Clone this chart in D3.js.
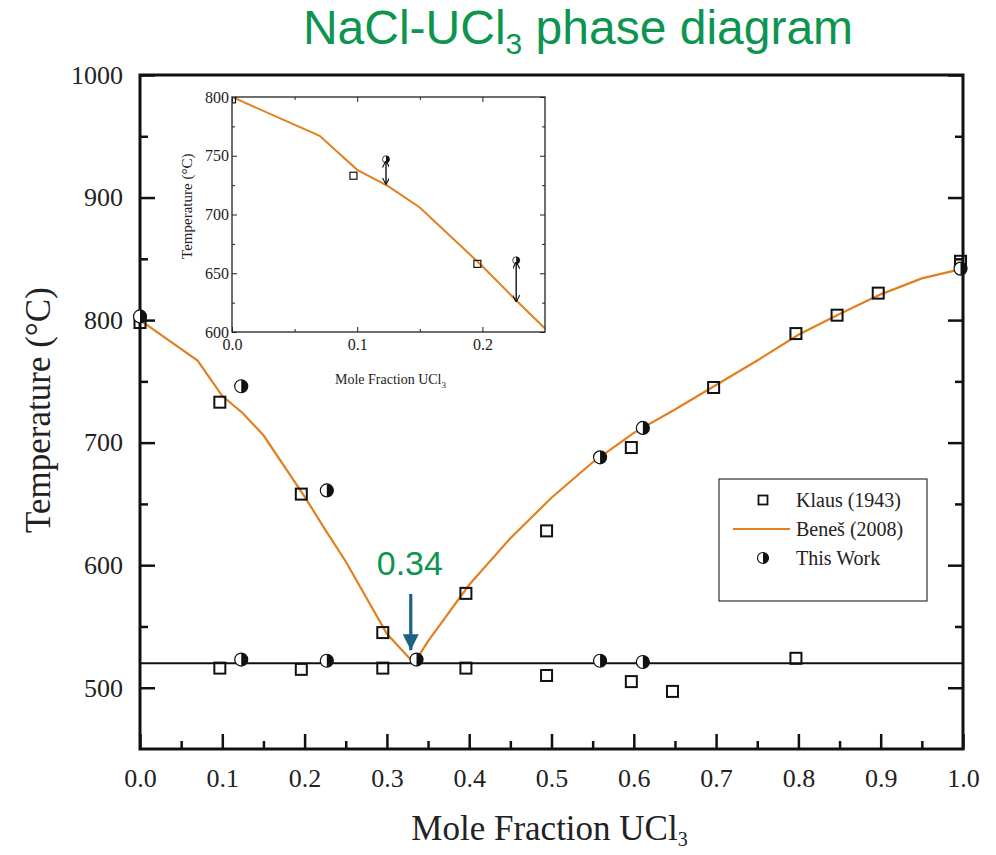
<!DOCTYPE html>
<html lang="en">
<head>
    <meta charset="UTF-8">
    <title>NaCl-UCl3 phase diagram</title>
    <script src="https://d3js.org/d3.v7.min.js"></script>
    <style>
        body { margin: 0; background: #fff; }
        .serif, .serif text { font-family: "Liberation Serif", "Times New Roman", serif; }
    </style>
</head>
<body>
    <div id="chart"></div>
    <script>
        // Beneš (2008) liquidus curve
        const benesX = [0, 0.07, 0.1, 0.125, 0.15, 0.2, 0.225, 0.25, 0.3, 0.333, 0.35, 0.4, 0.45, 0.5, 0.55, 0.6, 0.65, 0.7, 0.75, 0.8, 0.85, 0.9, 0.95, 1.0];
        const benesT = [800, 767, 738, 724, 706, 656, 629, 603, 544, 520, 538, 584, 622, 655, 684, 708, 727, 747, 767, 788, 805, 821, 834, 842];

        // Klaus (1943) squares
        const klausX = [0, 0.097, 0.196, 0.295, 0.396, 0.494, 0.597, 0.697, 0.797, 0.847, 0.897, 0.997,
                        0.097, 0.196, 0.295, 0.396, 0.494, 0.597, 0.647, 0.797];
        const klausT = [798, 733, 658, 545, 577, 628, 696, 745, 789, 804, 822, 848,
                        516, 515, 516, 516, 510, 505, 497, 524];

        // This Work (half filled circles)
        const workX = [0, 0.123, 0.227, 0.336, 0.559, 0.611, 0.997, 0.123, 0.227, 0.559, 0.611];
        const workT = [803, 746, 661, 523, 688, 712, 842, 523, 522, 522, 521];

        // inset error arrows
        const arrowX = [0.123, 0.227];
        const arrowTop = [747, 661];
        const arrowBottom = [726, 626];

        const eutecticT = 520;
        const eutecticX = 0.34;

        const xTicks = [0, 0.1, 0.2, 0.3, 0.4, 0.5, 0.6, 0.7, 0.8, 0.9, 1.0];
        const yTicks = [500, 600, 700, 800, 900, 1000];
        const insetXTicks = [0, 0.1, 0.2];
        const insetYTicks = [600, 650, 700, 750, 800];

        const orange = "#e2801f";
        const serifFont = '"Liberation Serif", "Times New Roman", serif';
        const W = 996, H = 855;
        const margin = {top: 75, right: 33, bottom: 106, left: 140};
        const width = W - margin.left - margin.right,
            height = H - margin.top - margin.bottom;

        const svg = d3.select('#chart')
            .append('svg')
                .attr('width', W)
                .attr('height', H);

        // title
        const title = svg.append('text')
            .attr('x', 578)
            .attr('y', 44)
            .attr('text-anchor', 'middle')
            .attr('fill', '#0d9550')
            .style('font-family', '"Liberation Sans", Arial, sans-serif')
            .style('font-size', '48px');
        title.append('tspan').text('NaCl-UCl');
        title.append('tspan').attr('dy', 10).style('font-size', '30px').text('3');
        title.append('tspan').attr('dy', -10).text(' phase diagram');

        const g = svg.append('g')
            .attr('transform', `translate(${margin.left}, ${margin.top})`);

        const x = d3.scaleLinear().domain([0, 1]).range([0, width]);
        const y = d3.scaleLinear().domain([450, 1000]).range([height, 0]);

        // minor ticks
        g.append('g')
            .attr('transform', `translate(0, ${height})`)
            .call(d3.axisBottom(x).tickValues(d3.range(0.05, 1, 0.1)).tickSizeInner(-8).tickSizeOuter(0).tickFormat(''));
        g.append('g')
            .call(d3.axisLeft(y).tickValues(d3.range(550, 1000, 100)).tickSizeInner(-8).tickSizeOuter(0).tickFormat(''));
        g.append('g')
            .attr('transform', `translate(${width}, 0)`)
            .call(d3.axisRight(y).tickValues(d3.range(550, 1000, 100)).tickSizeInner(-8).tickSizeOuter(0).tickFormat(''));

        // major ticks
        g.append('g')
            .attr('transform', `translate(0, ${height})`)
            .call(d3.axisBottom(x).tickValues(xTicks).tickSizeInner(-15).tickSizeOuter(0).tickPadding(20).tickFormat(d3.format('.1f')));
        g.append('g')
            .call(d3.axisLeft(y).tickValues(yTicks).tickSizeInner(-15).tickSizeOuter(0).tickPadding(17).tickFormat(d3.format('d')));
        g.append('g')
            .attr('transform', `translate(${width}, 0)`)
            .call(d3.axisRight(y).tickValues(yTicks).tickSizeInner(-15).tickSizeOuter(0).tickFormat(''));

        g.selectAll('.domain').remove();
        g.selectAll('.tick line').attr('stroke', '#111').attr('stroke-width', 2.5);
        g.selectAll('g').attr('font-family', serifFont);
        g.selectAll('.tick text')
            .attr('fill', '#222')
            .attr('font-family', serifFont)
            .attr('font-size', 26)
            .style('font-family', serifFont)
            .style('font-size', '26px');

        // frame
        g.append('rect')
            .attr('width', width)
            .attr('height', height)
            .attr('fill', 'none')
            .attr('stroke', '#111')
            .attr('stroke-width', 3);

        // axis labels
        const xl = svg.append('text')
            .attr('class', 'serif')
            .attr('x', margin.left + width / 2 - 2)
            .attr('y', 840)
            .attr('text-anchor', 'middle')
            .attr('fill', '#222')
            .style('font-size', '35px');
        xl.append('tspan').text('Mole Fraction UCl');
        xl.append('tspan').attr('dy', 6).style('font-size', '20px').text('3');

        svg.append('text')
            .attr('class', 'serif')
            .attr('transform', `translate(50, 410) rotate(-90)`)
            .attr('text-anchor', 'middle')
            .attr('fill', '#222')
            .style('font-size', '35px')
            .text('Temperature (°C)');

        // eutectic line
        g.append('line')
            .attr('x1', 0).attr('x2', width)
            .attr('y1', y(eutecticT)).attr('y2', y(eutecticT))
            .attr('stroke', '#111')
            .attr('stroke-width', 2);

        const benes = benesX.map((d, i) => [d, benesT[i]]);
        const klaus = klausX.map((d, i) => [d, klausT[i]]);
        const work = workX.map((d, i) => [d, workT[i]]);

        const line = d3.line().x(d => x(d[0])).y(d => y(d[1]));
        g.append('path')
            .datum(benes)
            .attr('d', line)
            .attr('fill', 'none')
            .attr('stroke', orange)
            .attr('stroke-width', 2.2);

        function squares(sel, data, xs, ys, s, sw) {
            sel.selectAll(null)
                .data(data)
                .join('rect')
                    .attr('x', d => xs(d[0]) - s / 2)
                    .attr('y', d => ys(d[1]) - s / 2)
                    .attr('width', s)
                    .attr('height', s)
                    .attr('fill', 'none')
                    .attr('stroke', '#111')
                    .attr('stroke-width', sw);
        }

        function halfCircles(sel, data, xs, ys, r, sw) {
            const m = sel.selectAll(null)
                .data(data)
                .join('g')
                    .attr('transform', d => `translate(${xs(d[0])}, ${ys(d[1])})`);
            m.append('circle').attr('r', r).attr('fill', '#fff').attr('stroke', '#111').attr('stroke-width', sw);
            m.append('path').attr('d', `M0,${-r}A${r},${r} 0 0 1 0,${r}Z`).attr('fill', '#111');
        }

        squares(g, klaus, x, y, 11, 2);
        halfCircles(g, work, x, y, 6.5, 1.2);

        // eutectic annotation
        svg.append('text')
            .attr('x', margin.left + x(eutecticX) - 10)
            .attr('y', 575)
            .attr('text-anchor', 'middle')
            .attr('fill', '#0d9550')
            .style('font-family', '"Liberation Sans", Arial, sans-serif')
            .style('font-size', '34px')
            .text(eutecticX.toFixed(2));

        const defs = svg.append('defs');
        defs.append('marker')
            .attr('id', 'tealhead')
            .attr('viewBox', '0 0 10 10')
            .attr('refX', 10).attr('refY', 5)
            .attr('markerWidth', 5).attr('markerHeight', 5)
            .attr('markerUnits', 'strokeWidth')
            .attr('orient', 'auto')
            .append('path')
                .attr('d', 'M0,0L10,5L0,10Z')
                .attr('fill', '#1b6382');

        const ax = margin.left + x(0.329);
        svg.append('line')
            .attr('x1', ax).attr('x2', ax)
            .attr('y1', 594).attr('y2', margin.top + y(eutecticT) - 13)
            .attr('stroke', '#1b6382')
            .attr('stroke-width', 3.2)
            .attr('marker-end', 'url(#tealhead)');

        // legend
        const lg = svg.append('g').attr('class', 'serif');
        lg.append('rect')
            .attr('x', 719).attr('y', 479)
            .attr('width', 208).attr('height', 122)
            .attr('fill', '#fff')
            .attr('stroke', '#333')
            .attr('stroke-width', 1.2);
        const legendNames = ['Klaus (1943)', 'Beneš (2008)', 'This Work'];
        legendNames.forEach((n, i) => {
            lg.append('text')
                .attr('x', 796).attr('y', 500 + i * 29 + 7)
                .attr('fill', '#222')
                .style('font-size', '20px')
                .text(n);
        });
        squares(lg, [[763, 500]], d => d, d => d, 9, 1.8);
        lg.append('line')
            .attr('x1', 733).attr('x2', 790)
            .attr('y1', 529).attr('y2', 529)
            .attr('stroke', orange).attr('stroke-width', 2.2);
        halfCircles(lg, [[763, 558]], d => d, d => d, 5.5, 1.2);

        // inset
        const inset = {left: 232, top: 97, width: 313, height: 235};
        const ig = svg.append('g')
            .attr('transform', `translate(${inset.left}, ${inset.top})`);
        const ix = d3.scaleLinear().domain([0, 0.25]).range([0, inset.width]);
        const iy = d3.scaleLinear().domain([600, 800]).range([inset.height, 0]);

        ig.append('rect')
            .attr('width', inset.width).attr('height', inset.height)
            .attr('fill', '#fff');

        const minorX = d3.range(0.05, 0.25, 0.1);
        ig.append('g').attr('transform', `translate(0, ${inset.height})`)
            .call(d3.axisBottom(ix).tickValues(minorX).tickSizeInner(-3).tickSizeOuter(0).tickFormat(''));
        ig.append('g')
            .call(d3.axisTop(ix).tickValues(minorX).tickSizeInner(-3).tickSizeOuter(0).tickFormat(''));
        ig.append('g')
            .call(d3.axisLeft(iy).tickValues(d3.range(625, 800, 50)).tickSizeInner(-3).tickSizeOuter(0).tickFormat(''));
        ig.append('g').attr('transform', `translate(${inset.width}, 0)`)
            .call(d3.axisRight(iy).tickValues(d3.range(625, 800, 50)).tickSizeInner(-3).tickSizeOuter(0).tickFormat(''));

        ig.append('g').attr('transform', `translate(0, ${inset.height})`)
            .call(d3.axisBottom(ix).tickValues(insetXTicks).tickSizeInner(-5).tickSizeOuter(0).tickPadding(7).tickFormat(d3.format('.1f')));
        ig.append('g')
            .call(d3.axisTop(ix).tickValues(insetXTicks).tickSizeInner(-5).tickSizeOuter(0).tickFormat(''));
        ig.append('g')
            .call(d3.axisLeft(iy).tickValues(insetYTicks).tickSizeInner(-5).tickSizeOuter(0).tickPadding(3));
        ig.append('g').attr('transform', `translate(${inset.width}, 0)`)
            .call(d3.axisRight(iy).tickValues(insetYTicks).tickSizeInner(-5).tickSizeOuter(0).tickFormat(''));

        ig.selectAll('.domain').remove();
        ig.selectAll('.tick line').attr('stroke', '#222').attr('stroke-width', 1);
        ig.selectAll('g').attr('font-family', serifFont);
        ig.selectAll('.tick text')
            .attr('fill', '#222')
            .attr('font-family', serifFont)
            .attr('font-size', 16)
            .style('font-family', serifFont)
            .style('font-size', '16px');

        defs.append('clipPath').attr('id', 'insetclip')
            .append('rect').attr('width', inset.width).attr('height', inset.height);

        const ip = ig.append('g').attr('clip-path', 'url(#insetclip)');
        const iline = d3.line().x(d => ix(d[0])).y(d => iy(d[1]));
        ip.append('path')
            .datum(benes.filter(d => d[0] <= 0.25))
            .attr('d', iline)
            .attr('fill', 'none')
            .attr('stroke', orange)
            .attr('stroke-width', 2);
        squares(ip, klaus.filter(d => d[0] <= 0.25 && d[1] >= 600), ix, iy, 7, 1.2);

        defs.append('marker')
            .attr('id', 'vhead')
            .attr('viewBox', '0 0 10 10')
            .attr('refX', 9).attr('refY', 5)
            .attr('markerWidth', 7).attr('markerHeight', 7)
            .attr('markerUnits', 'userSpaceOnUse')
            .attr('orient', 'auto-start-reverse')
            .append('path')
                .attr('d', 'M0,0L10,5L0,10')
                .attr('fill', 'none')
                .attr('stroke', '#111')
                .attr('stroke-width', 1.6);

        halfCircles(ip, arrowX.map((d, i) => [d, arrowTop[i]]), ix, iy, 3.5, 0.8);
        ip.selectAll(null)
            .data(arrowX)
            .join('line')
                .attr('x1', d => ix(d)).attr('x2', d => ix(d))
                .attr('y1', (d, i) => iy(arrowTop[i]) + 2)
                .attr('y2', (d, i) => iy(arrowBottom[i]))
                .attr('stroke', '#111')
                .attr('stroke-width', 1.4)
                .attr('marker-start', 'url(#vhead)')
                .attr('marker-end', 'url(#vhead)');

        ig.append('rect')
            .attr('width', inset.width).attr('height', inset.height)
            .attr('fill', 'none')
            .attr('stroke', '#222')
            .attr('stroke-width', 1.3);

        const ixl = ig.append('text')
            .attr('class', 'serif')
            .attr('x', inset.width / 2 + 2)
            .attr('y', inset.height + 52)
            .attr('text-anchor', 'middle')
            .attr('fill', '#222')
            .style('font-size', '14px');
        ixl.append('tspan').text('Mole Fraction UCl');
        ixl.append('tspan').attr('dy', 4).style('font-size', '9px').text('3');

        ig.append('text')
            .attr('class', 'serif')
            .attr('transform', `translate(-40, ${iy(707)}) rotate(-90)`)
            .attr('text-anchor', 'middle')
            .attr('fill', '#222')
            .style('font-size', '15px')
            .text('Temperature (°C)');
    </script>
</body>
</html>
